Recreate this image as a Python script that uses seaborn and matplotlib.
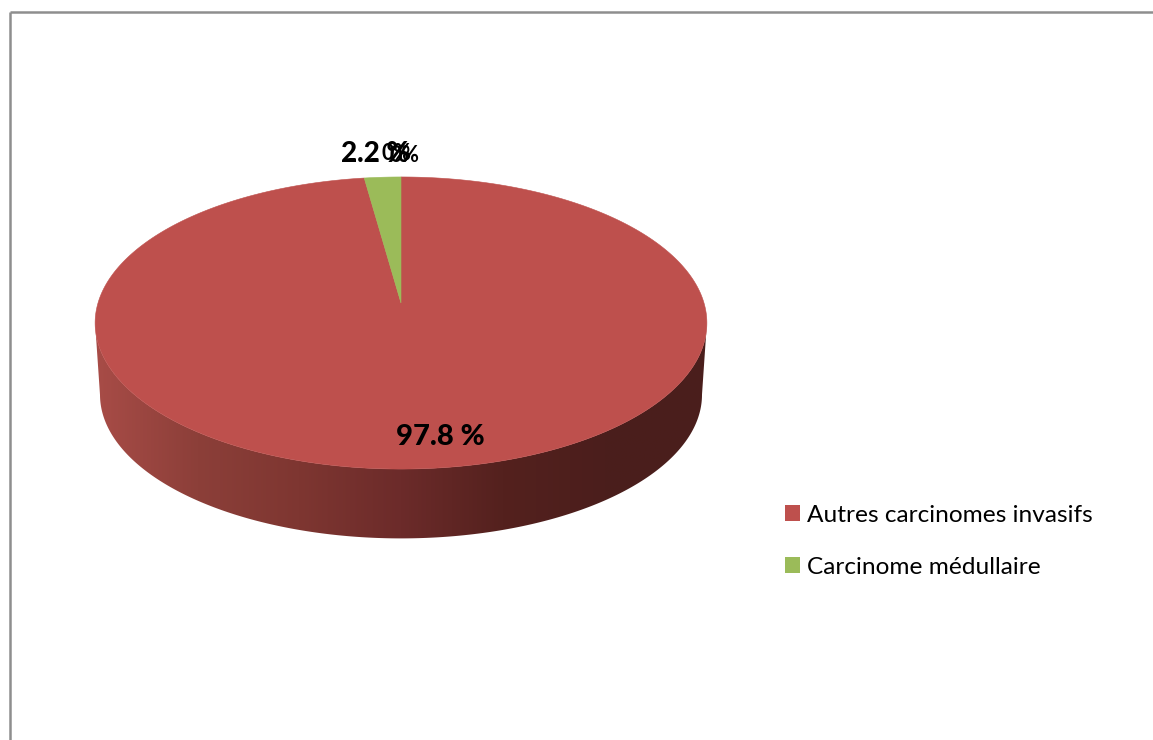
import numpy as np
import matplotlib
matplotlib.use("Agg")
import matplotlib.pyplot as plt
from matplotlib.path import Path
from matplotlib.patches import PathPatch, Patch
import seaborn as sns

categories = ["Autres carcinomes invasifs", "Carcinome médullaire"]
values = [97.8, 2.2]
value_labels = ["97.8 %", "2.2 %"]
zero_labels = ["0%", "0%"]
colors = ["#BE504D", "#9BBB59"]
side_colors = ["#A84C47", "#8C3F39", "#7E3631", "#6C2B2A", "#54211E", "#4B1E1C", "#4A1F1C"]
frame_color = "#8E8E8E"

sns.set_theme(style="white")
plt.rcParams["font.family"] = ["Lato", "DejaVu Sans"]

W, H = 1153, 740
fig = plt.figure(figsize=(W / 100, H / 100), dpi=100, facecolor="white")
ax = fig.add_axes([0, 0, 1, 1])

# perspective projection of the unit disc onto pixels
CX, APEX_Y, R, C, B = 401.0, 303.0, 303.0, 143.3, 0.137


def project(xy, scale=1.0, apex=APEX_Y):
    x, y = xy[:, 0], xy[:, 1]
    d = 1 + B * y
    return np.column_stack([CX + scale * R * x / d, apex - scale * C * y / d])


def flatten(path):
    """Sample every curve segment of a path densely."""
    pts = []
    ts = np.linspace(0, 1, 40)
    for seg, code in path.iter_bezier():
        if code == Path.MOVETO:
            pts.append(np.atleast_2d(seg.control_points[0]))
        else:
            pts.append(seg(ts))
    return np.vstack(pts)


wedges, _ = ax.pie(values, colors=colors, startangle=90, counterclock=False, radius=1.0)
top_patches = []
for w in wedges:
    p = w.get_patch_transform().transform_path(w.get_path())
    top_patches.append((project(flatten(p)), w.get_facecolor()))
    w.remove()

# side wall
t = np.linspace(0, 2 * np.pi, 1600)
circle = np.column_stack([np.cos(t), np.sin(t)])
lower_half = circle[circle[:, 1] <= -B]
lower_half = lower_half[np.argsort(lower_half[:, 0])]
top_edge = project(lower_half)
bottom_edge = project(lower_half, scale=0.984, apex=375.0)
wall = np.vstack([top_edge, bottom_edge[::-1]])
wall_path = Path(np.vstack([wall, wall[0]]), closed=True)

grad = np.array(sns.blend_palette(side_colors, 256))[None, :, :]
im = ax.imshow(grad, extent=[95, 707, 540, 320], aspect="auto", interpolation="bilinear", zorder=1)
clip = PathPatch(wall_path, transform=ax.transData, facecolor="none", edgecolor="none")
ax.add_patch(clip)
im.set_clip_path(clip)

for poly, fc in top_patches:
    ax.add_patch(PathPatch(Path(np.vstack([poly, poly[0]]), closed=True),
                           facecolor=fc, edgecolor=fc, lw=0.4, zorder=2))

ax.set_aspect("auto")
ax.set_xlim(0, W)
ax.set_ylim(H, 0)
ax.axis("off")

# labels
ax.text(440, 437, value_labels[0], fontsize=21, fontweight="black", color="black",
        ha="center", va="center", zorder=4)
ax.text(341, 154, value_labels[1], fontsize=20, fontweight="black", color="black",
        ha="left", va="center", zorder=4)
ax.text(397, 153, zero_labels[0], fontsize=15.5, fontweight="bold", color="black",
        ha="center", va="center", zorder=4)
ax.text(405, 155, zero_labels[1], fontsize=15.5, fontweight="bold", color="black",
        ha="center", va="center", zorder=4)

# frame
ax.plot([10, 10], [H, 12], color=frame_color, lw=1.8, solid_capstyle="butt", zorder=5)
ax.plot([10, W], [12, 12], color=frame_color, lw=1.8, solid_capstyle="butt", zorder=5)

# legend
handles = [Patch(facecolor=c, edgecolor="none") for c in colors]
ax.legend(handles, categories, loc="upper left", bbox_to_anchor=(785 / W, 1 - 505 / H),
          bbox_transform=fig.transFigure, frameon=False, fontsize=17.6,
          handlelength=0.62, handleheight=0.62, handletextpad=0.3,
          labelspacing=1.25, borderpad=0, borderaxespad=0, labelcolor="black")

fig.savefig("out.png", dpi=100, facecolor="white")
